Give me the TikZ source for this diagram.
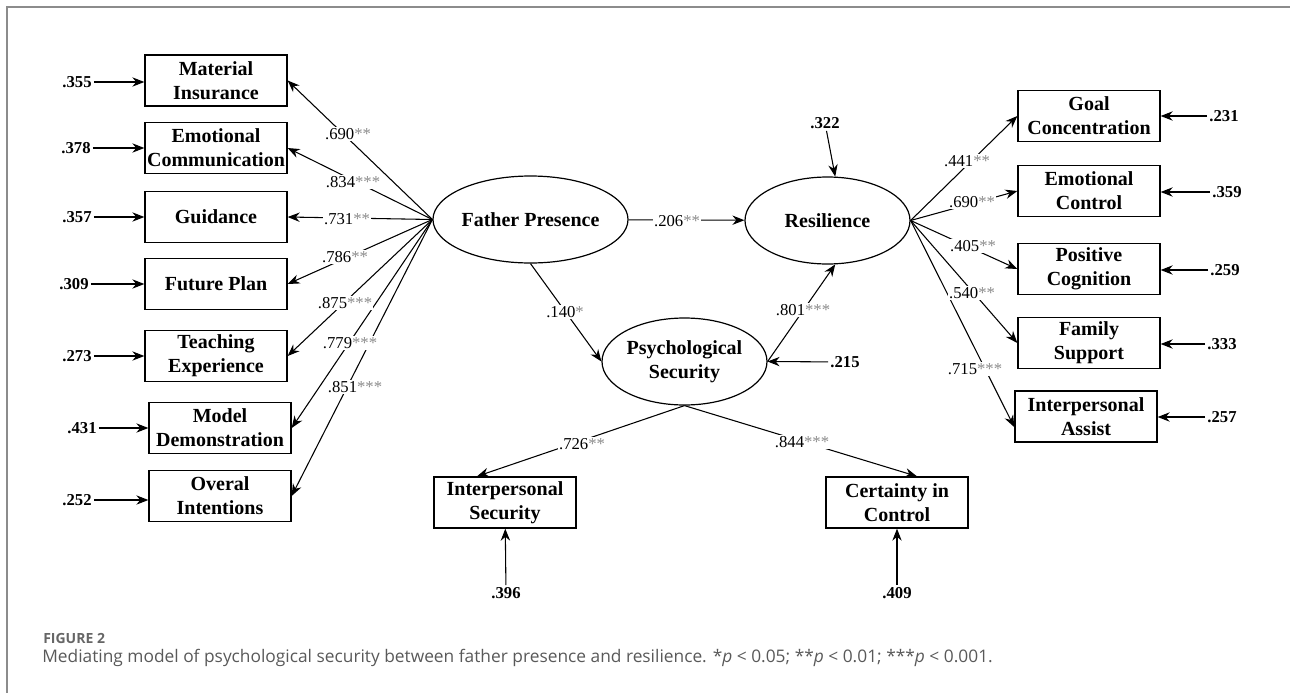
\documentclass[tikz,border=0pt]{standalone}
\usepackage{fontspec}
\setmainfont{Liberation Serif}
\newfontfamily\capfont{Open Sans}
\usetikzlibrary{arrows.meta,shapes.geometric}
\newcommand\sig[1]{{\color{black!45}#1}}
\begin{document}
\begin{tikzpicture}[x=0.75pt,y=-0.75pt,
  box/.style={draw, line width=1pt, align=center, minimum width=106.5pt, minimum height=38.25pt, inner sep=0pt, font=\fontsize{15}{18}\selectfont\bfseries},
  lat/.style={draw, ellipse, line width=0.9pt, minimum width=123.75pt, minimum height=65.25pt, inner sep=0pt, align=center, font=\fontsize{15}{18}\selectfont\bfseries},
  coef/.style={fill=white, inner sep=1pt, font=\fontsize{12.5}{14}\selectfont},
  err/.style={inner sep=1.5pt, font=\fontsize{12.5}{14}\selectfont\bfseries},
  arr/.style={-{Stealth[length=9pt,width=7pt]}, line width=0.8pt},
]
\useasboundingbox (0,0) rectangle (1290,693);
% frame
\draw[black!45, line width=0.8pt] (7,693) -- (7,7) -- (1290,7);

% left indicators
\node[box] (mi) at (216,80.5) {Material\\Insurance};
\node[box] (ec) at (216,148) {Emotional\\Communication};
\node[box] (gu) at (216,217) {Guidance};
\node[box] (fp) at (216,284) {Future Plan};
\node[box] (te) at (216,356) {Teaching\\Experience};
\node[box] (md) at (220,428) {Model\\Demonstration};
\node[box] (oi) at (220,496) {Overal\\Intentions};

% left errors
\node[err] (e1) at (77,82) {.355};
\node[err] (e2) at (76,148) {.378};
\node[err] (e3) at (77,217) {.357};
\node[err] (e4) at (74,284) {.309};
\node[err] (e5) at (77,356) {.273};
\node[err] (e6) at (82,428) {.431};
\node[err] (e7) at (77,500) {.252};
\foreach \e/\b in {e1/mi,e2/ec,e3/gu,e4/fp,e5/te,e6/md,e7/oi}
  \draw[arr] (\e) -- (\b.west |- \e);

% latent variables
\node[lat] (fpres) at (530.5,219.5) {Father Presence};
\node[lat] (res) at (827.5,220.5) {Resilience};
\node[lat] (psy) at (684.5,361.5) {Psychological\\Security};

% right indicators
\node[box] (gc) at (1089,116) {Goal\\Concentration};
\node[box] (ecn) at (1089,191) {Emotional\\Control};
\node[box] (pc) at (1089,269) {Positive\\Cognition};
\node[box] (fs) at (1089,343) {Family\\Support};
\node[box] (ia) at (1086,416.5) {Interpersonal\\Assist};

% right errors
\node[err] (r1) at (1224,116) {.231};
\node[err] (r2) at (1227,192) {.359};
\node[err] (r3) at (1225,270) {.259};
\node[err] (r4) at (1222,344) {.333};
\node[err] (r5) at (1222,417) {.257};
\foreach \e/\b in {r1/gc,r2/ecn,r3/pc,r4/fs,r5/ia}
  \draw[arr] (\e) -- (\b.east |- \e);

% bottom indicators
\node[box] (is) at (505,502.5) {Interpersonal\\Security};
\node[box] (cic) at (897,502.5) {Certainty in\\Control};
\node[err] (b1) at (506,593) {.396};
\node[err] (b2) at (897,593) {.409};
\draw[arr] (b1) -- (is);
\draw[arr] (b2) -- (cic);

% structural errors
\node[err] (z1) at (825,123) {.322};
\node[err] (z2) at (845,362) {.215};
\draw[arr] (z1) -- (res.80);
\draw[arr] (z2) -- (psy.east);

% loadings father presence
\foreach \b in {mi,ec,gu,fp,te,md,oi}
  \draw[arr] (fpres.west) -- (\b.east);
\node[coef] (c1) at (348,134) {.690\sig{**}};
\node[coef] (c2) at (353,182) {.834\sig{***}};
\node[coef] (c3) at (347,219) {.731\sig{**}};
\node[coef] (c4) at (345,257) {.786\sig{**}};
\node[coef] (c5) at (345,303) {.875\sig{***}};
\node[coef] (c6) at (350,343) {.779\sig{***}};
\node[coef] (c7) at (355,387) {.851\sig{***}};

% loadings resilience
\draw[arr] (res.east) -- (gc.west);
\draw[arr] (res.east) -- (ecn.west);
\draw[arr] (res.east) -- (pc.west);
\draw[arr] (res.east) -- (fs.west);
\draw[arr] (res.east) -- ([yshift=-8pt]ia.west);
\node[coef] (d1) at (967,161) {.441\sig{**}};
\node[coef] (d2) at (972,202) {.690\sig{**}};
\node[coef] (d3) at (973,246) {.405\sig{**}};
\node[coef] (d4) at (972,293) {.540\sig{**}};
\node[coef] (d5) at (975,369) {.715\sig{***}};

% loadings psychological security
\draw[arr] (psy.south) -- ([xshift=-21pt]is.north);
\draw[arr] (psy.south) -- ([xshift=15pt]cic.north);
\node[coef] (p1) at (582,444) {.726\sig{**}};
\node[coef] (p2) at (802,442) {.844\sig{***}};

% structural paths
\draw[arr] (fpres) -- (res);
\draw[arr] (fpres.south) -- (psy.west);
\draw[arr] (psy.east) -- (res.-80);
\node[coef] (s1) at (677,221) {.206\sig{**}};
\node[coef] (s2) at (565,312) {.140\sig{*}};
\node[coef] (s3) at (803,310) {.801\sig{***}};

% caption
\node[anchor=west, inner sep=0pt, text=black!60, font=\capfont\bfseries\fontsize{10.5}{12}\selectfont] (cap1) at (43,638) {FIGURE 2};
\node[anchor=west, inner sep=0pt, text=black!65, font=\capfont\fontsize{13}{15}\selectfont] (cap2) at (42,658) {Mediating model of psychological security between father presence and resilience. *\textit{p} < 0.05; **\textit{p} < 0.01; ***\textit{p} < 0.001.};
\end{tikzpicture}
\end{document}
